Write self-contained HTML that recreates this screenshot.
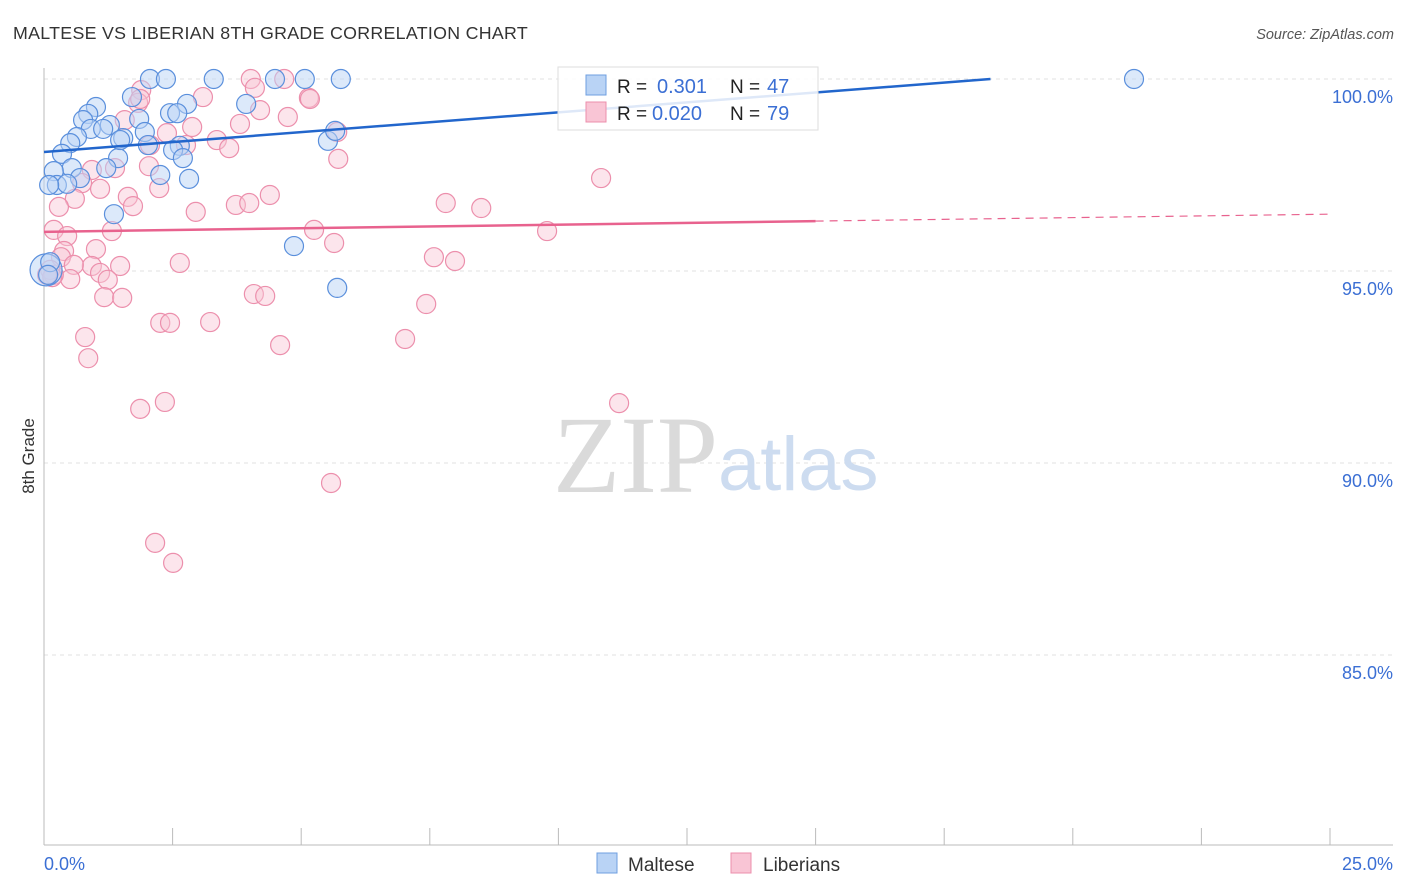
<!DOCTYPE html>
<html><head><meta charset="utf-8"><style>
body{margin:0;background:#fff;font-family:"Liberation Sans",sans-serif}
svg{display:block}
</style></head><body>
<svg id="chart" width="1406" height="892" xmlns="http://www.w3.org/2000/svg" font-family="Liberation Sans, sans-serif">
<text x="13" y="39" font-size="17.8" fill="#333" letter-spacing="0.3">MALTESE VS LIBERIAN 8TH GRADE CORRELATION CHART</text>
<text x="1394" y="39" font-size="14.5" fill="#555" font-style="italic" text-anchor="end">Source: ZipAtlas.com</text>
<g id="grid"></g>
<g>
<text x="553" y="492" font-size="110" fill="#dadada" font-family="Liberation Serif, serif">ZIP</text>
<text x="718" y="490" font-size="76" fill="#cddcf0">atlas</text>
</g>
<g id="axes"></g>
<g id="pts"></g>
<g id="lines"></g>
<text transform="translate(34,456) rotate(-90)" font-size="17" fill="#333" text-anchor="middle">8th Grade</text>
<g>
<rect x="558" y="67" width="260" height="63" fill="#fff" fill-opacity="0.85" stroke="#ddd"/>
<rect x="586" y="75" width="20" height="20" fill="#b9d3f5" stroke="#6f9fe0"/>
<rect x="586" y="102" width="20" height="20" fill="#f9c5d5" stroke="#ec8fac"/>
<text x="617" y="93" font-size="19" fill="#222">R = </text><text x="657" y="93" font-size="20" fill="#3b6fd4">0.301</text>
<text x="730" y="93" font-size="19" fill="#222">N = </text><text x="767" y="93" font-size="20" fill="#3b6fd4">47</text>
<text x="617" y="120" font-size="19" fill="#222">R = </text><text x="652" y="120" font-size="20" fill="#3b6fd4">0.020</text>
<text x="730" y="120" font-size="19" fill="#222">N = </text><text x="767" y="120" font-size="20" fill="#3b6fd4">79</text>
</g>
<g>
<rect x="597" y="853" width="20" height="20" fill="#b9d3f5" stroke="#6f9fe0"/>
<text x="628" y="871" font-size="19" fill="#333">Maltese</text>
<rect x="731" y="853" width="20" height="20" fill="#f9c5d5" stroke="#ec8fac"/>
<text x="763" y="871" font-size="19" fill="#333">Liberians</text>
</g>
</svg>
<script>
const yTicks=[100,95,90,85];
const xTickLabels=["0.0%","25.0%"];
const blueX=[2.06,2.37,3.30,4.49,5.07,5.77,21.19,1.71,2.78,3.93,1.01,0.86,2.45,2.59,1.85,0.76,1.28,0.91,1.15,1.96,0.64,1.54,0.51,5.52,5.66,2.02,2.64,2.51,0.35,1.44,2.70,1.21,0.54,0.19,2.26,2.82,0.70,0.25,0.45,0.10,1.36,4.86,5.70,0.04,0.12,1.48,0.08];
const blueY=[100,100,100,100,100,100,100,99.53,99.35,99.35,99.27,99.09,99.11,99.11,98.96,98.93,98.80,98.70,98.70,98.62,98.49,98.46,98.33,98.39,98.65,98.28,98.26,98.15,98.05,97.94,97.94,97.68,97.68,97.60,97.50,97.40,97.42,97.24,97.27,97.24,96.48,95.65,94.56,95.03,95.23,98.41,94.90];
const pinkX=[4.02,4.67,1.89,3.09,1.83,4.20,5.15,4.74,1.57,3.81,2.88,2.39,3.36,3.60,2.76,2.06,5.72,5.70,2.04,1.38,0.93,0.74,2.24,1.09,4.39,1.63,0.60,1.73,2.95,3.73,3.99,7.81,8.50,10.83,0.29,1.32,0.19,0.45,5.25,5.64,9.78,1.01,0.39,0.33,2.64,0.93,1.48,7.58,7.99,0.58,1.09,0.51,1.24,0.19,0.12,1.17,1.52,4.08,4.30,7.43,2.26,2.45,3.23,0.80,4.59,7.02,0.86,1.87,2.35,11.18,5.58,2.16,2.51,0.16,0.06,5.17,1.87,4.10];
const pinkY=[100,100,99.71,99.53,99.38,99.19,99.51,99.01,98.93,98.83,98.75,98.59,98.41,98.20,98.28,98.28,97.92,98.62,97.73,97.68,97.63,97.29,97.16,97.14,96.98,96.93,96.88,96.69,96.54,96.72,96.77,96.77,96.64,97.42,96.67,96.04,96.07,95.91,96.07,95.73,96.04,95.57,95.52,95.36,95.21,95.13,95.13,95.36,95.26,95.16,94.95,94.79,94.77,94.90,95.03,94.32,94.30,94.40,94.35,94.14,93.65,93.65,93.67,93.28,93.07,93.23,92.73,91.41,91.59,91.56,89.48,87.92,87.40,94.84,94.90,99.48,99.48,99.77];
const blueTrend=[98.10,100,18.4];
const pinkTrend=[96.02,96.30,15,96.48,25];
const NS="http://www.w3.org/2000/svg";
const X0=44,X1=1330,Y100=79,PXPER=192/5;
const sx=v=>X0+(v/25)*(X1-X0);
const sy=v=>Y100+(100-v)*PXPER;
function mk(tag,attrs,parent){const e=document.createElementNS(NS,tag);for(const k in attrs)e.setAttribute(k,attrs[k]);parent.appendChild(e);return e;}
const grid=document.getElementById('grid'),axes=document.getElementById('axes'),pts=document.getElementById('pts'),lines=document.getElementById('lines');
yTicks.forEach(t=>{
 const l=mk('line',{x1:44,x2:1393,y1:sy(t),y2:sy(t),stroke:'#e2e2e2','stroke-dasharray':'4,4'},grid);
 
 
 const tx=mk('text',{x:1393,y:sy(t)+24,'font-size':18,fill:'#3b6fd4','text-anchor':'end'},axes);
 tx.textContent=t.toFixed(1)+'%';
 
 
});
mk('line',{x1:44,x2:44,y1:68,y2:845,stroke:'#bbb'},axes);
mk('line',{x1:44,x2:1393,y1:845,y2:845,stroke:'#bbb'},axes);
for(let i=0;i<=10;i++){const x=sx(i*2.5);const t=mk('line',{x1:x,x2:x,y1:828,y2:845,stroke:'#bbb'},axes);
 
 }
const xl0=mk('text',{x:44,y:870,'font-size':18,fill:'#3b6fd4'},axes);xl0.textContent=xTickLabels[0];


const xl1=mk('text',{x:1393,y:870,'font-size':18,fill:'#3b6fd4','text-anchor':'end'},axes);xl1.textContent=xTickLabels[1];


pinkX.forEach((v,i)=>{const c=mk('circle',{cx:sx(v),cy:sy(pinkY[i]),r:9.5,fill:'#f9c5d5','fill-opacity':0.45,stroke:'#ec8fac','stroke-width':1.2},pts);
 
 });
blueX.forEach((v,i)=>{const c=mk('circle',{cx:sx(v),cy:sy(blueY[i]),r:i===43?16:9.5,fill:'#b9d3f5','fill-opacity':0.5,stroke:'#5a8fdc','stroke-width':1.2},pts);
 
 });
const bl=mk('line',{x1:sx(0),y1:sy(blueTrend[0]),x2:sx(blueTrend[2]),y2:sy(blueTrend[1]),stroke:'#2266cc','stroke-width':2.5},lines);


const pl=mk('line',{x1:sx(0),y1:sy(pinkTrend[0]),x2:sx(pinkTrend[2]),y2:sy(pinkTrend[1]),stroke:'#e8628e','stroke-width':2.5},lines);


const pd=mk('line',{x1:sx(pinkTrend[2]),y1:sy(pinkTrend[1]),x2:sx(pinkTrend[4]),y2:sy(pinkTrend[3]),stroke:'#e8628e','stroke-width':1.2,'stroke-dasharray':'8,6'},lines);


</script>
</body></html>
